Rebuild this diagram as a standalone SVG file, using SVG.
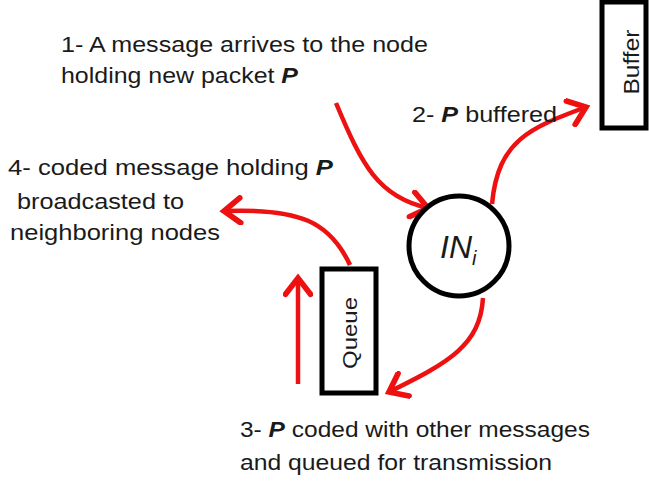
<svg xmlns="http://www.w3.org/2000/svg" width="649" height="481" viewBox="0 0 649 481">
<defs>
<marker id="ah" markerUnits="userSpaceOnUse" markerWidth="30" markerHeight="30" viewBox="-16 -12 20 24" refX="0" refY="0" orient="auto">
<path d="M-13,-10 L0,0 L-13,10" fill="none" stroke="#ee1111" stroke-width="4.5" stroke-linecap="round" stroke-linejoin="miter"/>
</marker>
</defs>
<style>
.t{font-family:"Liberation Sans",Arial,sans-serif;font-size:22px;fill:#1a1a1a}
.b{font-weight:bold;font-style:italic}
.c{fill:none;stroke:#ee1111;stroke-width:4.5;marker-end:url(#ah)}
.box{fill:#fff;stroke:#000;stroke-width:5}
</style>
<rect width="649" height="481" fill="#fff"/>
<g id="connectors">
<path class="c" d="M336,103 C362,165 378,197 428,208"/>
<path class="c" d="M492,204 C498,140 530,128 586,107"/>
<path class="c" d="M483,298 C480,345 450,362 389,392"/>
<path class="c" d="M350,265 C330,222 300,208 224,211"/>
<path class="c" d="M298,384 L298,278"/>
</g>
<g id="node-in">
<circle cx="459" cy="246" r="50" fill="#fff" stroke="#000" stroke-width="5"/>
<text class="t" x="440" y="258" style="font-size:32px;font-style:italic">IN<tspan style="font-size:20px" dy="7">i</tspan></text>
</g>
<g id="node-buffer">
<rect class="box" x="602" y="2" width="44" height="126"/>
<text class="t" transform="translate(639,62) rotate(-90)" text-anchor="middle" style="font-size:22px" textLength="65" lengthAdjust="spacingAndGlyphs">Buffer</text>
</g>
<g id="node-queue">
<rect class="box" x="322" y="269" width="54" height="124"/>
<text class="t" transform="translate(357,333) rotate(-90)" text-anchor="middle" style="font-size:21px" textLength="72" lengthAdjust="spacingAndGlyphs">Queue</text>
</g>
<g id="labels">
<text class="t" x="61" y="52" textLength="367" lengthAdjust="spacingAndGlyphs">1- A message arrives to the node</text>
<text class="t" x="61" y="83" textLength="237" lengthAdjust="spacingAndGlyphs">holding new packet <tspan class="b">P</tspan></text>
<text class="t" x="412" y="122" textLength="145" lengthAdjust="spacingAndGlyphs">2- <tspan class="b">P</tspan> buffered</text>
<text class="t" x="8" y="175" textLength="325" lengthAdjust="spacingAndGlyphs">4- coded message holding <tspan class="b">P</tspan></text>
<text class="t" x="17" y="209" textLength="167" lengthAdjust="spacingAndGlyphs">broadcasted to</text>
<text class="t" x="10" y="240" textLength="210" lengthAdjust="spacingAndGlyphs">neighboring nodes</text>
<text class="t" x="240" y="437" textLength="350" lengthAdjust="spacingAndGlyphs">3- <tspan class="b">P</tspan> coded with other messages</text>
<text class="t" x="240" y="470" textLength="312" lengthAdjust="spacingAndGlyphs">and queued for transmission</text>
</g>
</svg>
